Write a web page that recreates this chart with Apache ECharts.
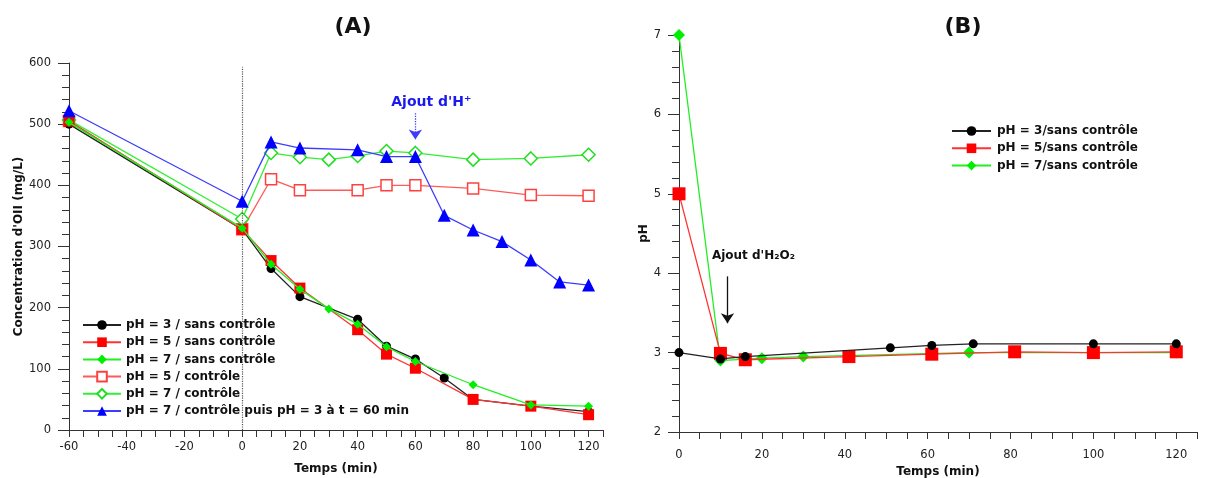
<!DOCTYPE html>
<html><head><meta charset="utf-8">
<script src="https://cdn.jsdelivr.net/npm/echarts@6/dist/echarts.min.js"></script>
<style>html,body{margin:0;padding:0;background:#fff}#c{width:1211px;height:478px}</style>
</head><body><div id="c"></div>
<script>
// ---- Panel A data: concentration (mg/L) vs time (min)
const tA_ph3 = [-60,0,10,20,40,50,60,70,80,100,120];
const vA_ph3 = [500,328,264,218,181,137,116,85,50,39,30];
const tA_ph5 = [-60,0,10,20,40,50,60,80,100,120];
const vA_ph5 = [505,328,277,232,164,124,101,50,39,25];
const tA_ph7 = [-60,0,10,20,30,40,50,60,80,100,120];
const vA_ph7 = [503,330,271,230,198,173,136,112,74,41,39];
const tA_ph5c = [-60,0,10,20,40,50,60,80,100,120];
const vA_ph5c = [505,328,410,392,392,400,400,395,384,383];
const tA_ph7c = [-60,0,10,20,30,40,50,60,80,100,120];
const vA_ph7c = [507,345,453,446,442,448,456,453,442,444,450];
const tA_blue = [-60,0,10,20,40,50,60,70,80,90,100,110,120];
const vA_blue = [522,374,471,461,458,447,447,351,327,308,278,242,237];
// ---- Panel B data: pH vs time (min)
const tB_ph3 = [0,10,16,51,61,71,100,120];
const vB_ph3 = [3.0,2.92,2.95,3.06,3.09,3.11,3.11,3.11];
const tB_ph5 = [0,10,16,41,61,81,100,120];
const vB_ph5 = [5.0,2.99,2.91,2.95,2.98,3.01,3.0,3.01];
const tB_ph7 = [0,10,20,30,70,100,120];
const vB_ph7 = [7.0,2.9,2.93,2.95,3.0,3.0,3.0];
// ---- labels
const namesA = ['pH = 3 / sans contrôle','pH = 5 / sans contrôle','pH = 7 / sans contrôle','pH = 5 / contrôle','pH = 7 / contrôle','pH = 7 / contrôle puis pH = 3 à t = 60 min'];
const namesB = ['pH = 3/sans contrôle','pH = 5/sans contrôle','pH = 7/sans contrôle'];

const zip = (t, v) => t.map((x, i) => [x, v[i]]);
const FONT = 'DejaVu Sans';

function xAxisCfg(gi, min, margin, gap){
  return {
    type:'value', gridIndex:gi, min:min, max:125, interval:5,
    name:'Temps (min)', nameLocation:'middle', nameGap:gap,
    nameTextStyle:{fontFamily:FONT,fontWeight:'bold',fontSize:12,color:'#111'},
    axisLine:{show:true,onZero:false,lineStyle:{color:'#333',width:1}},
    axisTick:{show:true,length:7,lineStyle:{color:'#333'}},
    axisLabel:{margin:margin,fontFamily:FONT,fontSize:11.5,color:'#222',
      formatter:v=> (v%20===0 ? String(v) : '')},
    splitLine:{show:false}
  };
}
function yAxisCfg(gi, min, max, interval, name, gap){
  return {
    type:'value', gridIndex:gi, min:min, max:max, interval:interval,
    name:name, nameLocation:'middle', nameGap:gap, nameRotate:90,
    nameTextStyle:{fontFamily:FONT,fontWeight:'bold',fontSize:12,color:'#111'},
    axisLine:{show:true,onZero:false,lineStyle:{color:'#333',width:1}},
    axisTick:{show:true,length:11,lineStyle:{color:'#333'}},
    minorTick:{show:true,splitNumber:5,length:7,lineStyle:{color:'#333'}},
    axisLabel:{margin:18,fontFamily:FONT,fontSize:11.5,color:'#222'},
    splitLine:{show:false}, minorSplitLine:{show:false}
  };
}
function lineSeries(name, data, xi, sym, size, color, lineColor, open, z){
  return {
    type:'line', name:name, xAxisIndex:xi, yAxisIndex:xi, data:data,
    symbol:sym, symbolSize:size, showAllSymbol:true, z:z,
    lineStyle:{color:lineColor,width:1.3},
    itemStyle: open ? {color:'#ffffff',borderColor:color,borderWidth:1.5}
                    : {color:color,borderColor:color,borderWidth:0},
    emphasis:{disabled:true}
  };
}

const chart = echarts.init(document.getElementById('c'), null, {renderer:'canvas'});
const seriesA = [
  lineSeries(namesA[3], zip(tA_ph5c,vA_ph5c), 0, 'rect', 11, '#ff4040', '#ff5a5a', true, 2),
  lineSeries(namesA[4], zip(tA_ph7c,vA_ph7c), 0, 'diamond', 13, '#22dd22', '#33ee33', true, 3),
  lineSeries(namesA[0], zip(tA_ph3,vA_ph3), 0, 'circle', 9, '#000000', '#222222', false, 4),
  lineSeries(namesA[1], zip(tA_ph5,vA_ph5), 0, 'rect', 11, '#ff0000', '#ff3333', false, 5),
  lineSeries(namesA[2], zip(tA_ph7,vA_ph7), 0, 'diamond', 9, '#00ee00', '#22ee22', false, 6),
  lineSeries(namesA[5], zip(tA_blue,vA_blue), 0, 'triangle', 13, '#0000ff', '#3c3cff', false, 7)
];
// dotted line at t = 0
seriesA[2].markLine = {
  silent:true, symbol:['none','none'], animation:false,
  lineStyle:{color:'#555',type:'dotted',width:1.2},
  label:{show:false},
  data:[[{coord:[0,0]},{coord:[0,594]}]]
};
// "Ajout d'H+" arrow
seriesA[5].markLine = {
  silent:true, symbol:['none','arrow'], symbolSize:10, animation:false,
  itemStyle:{color:'#2a2aff'},
  lineStyle:{color:'#3c3cff',type:'dotted',width:1.3},
  label:{show:true,position:'start',distance:4,offset:[16,0],formatter:"Ajout d'H\u207A",
    fontFamily:FONT,fontWeight:'bold',fontSize:14,color:'#1a1aee'},
  data:[[{coord:[60,518]},{coord:[60,475]}]]
};

const seriesB = [
  lineSeries(namesB[2], zip(tB_ph7,vB_ph7), 1, 'diamond', 12, '#00ee00', '#22ee22', false, 2),
  lineSeries(namesB[1], zip(tB_ph5,vB_ph5), 1, 'rect', 13, '#ff0000', '#ff3333', false, 3),
  lineSeries(namesB[0], zip(tB_ph3,vB_ph3), 1, 'circle', 9, '#000000', '#222222', false, 4)
];
seriesB[2].markLine = {
  silent:true, symbol:['none','arrow'], symbolSize:10, animation:false,
  itemStyle:{color:'#111'},
  lineStyle:{color:'#111',type:'solid',width:1.3},
  label:{show:true,position:'start',distance:15,offset:[26,0],formatter:"Ajout d'H\u2082O\u2082",
    fontFamily:FONT,fontWeight:'bold',fontSize:12,color:'#111'},
  data:[[{coord:[11.7,3.96]},{coord:[11.7,3.37]}]]
};

const option = {
  backgroundColor:'#ffffff',
  animation:false,
  title:[
    {text:'(A)',left:348,top:11,textAlign:'center',textStyle:{fontFamily:FONT,fontWeight:'bold',fontSize:22,color:'#111'}},
    {text:'(B)',left:958,top:11,textAlign:'center',textStyle:{fontFamily:FONT,fontWeight:'bold',fontSize:22,color:'#111'}}
  ],
  grid:[
    {left:69, top:63, width:534, height:367, containLabel:false, outerBoundsMode:'none'},
    {left:679, top:35, width:518, height:397, containLabel:false, outerBoundsMode:'none'}
  ],
  xAxis:[ xAxisCfg(0,-60,11,33), xAxisCfg(1,0,17,34) ],
  yAxis:[
    yAxisCfg(0,0,600,100,"Concentration d'OII (mg/L)",42),
    yAxisCfg(1,2,7,1,'pH',29)
  ],
  legend:[
    {data:namesA, orient:'vertical', left:77, top:314, itemWidth:38, itemHeight:12, itemGap:5.2,
     textStyle:{fontFamily:FONT,fontWeight:'bold',fontSize:12,color:'#111',padding:[0,0,0,0]},
     selectedMode:false},
    {data:namesB, orient:'vertical', left:946, top:120, itemWidth:39, itemHeight:12, itemGap:5.3,
     textStyle:{fontFamily:FONT,fontWeight:'bold',fontSize:12,color:'#111',padding:[0,0,0,1]},
     selectedMode:false}
  ],
  series: seriesA.concat(seriesB)
};
chart.setOption(option);
</script></body></html>
